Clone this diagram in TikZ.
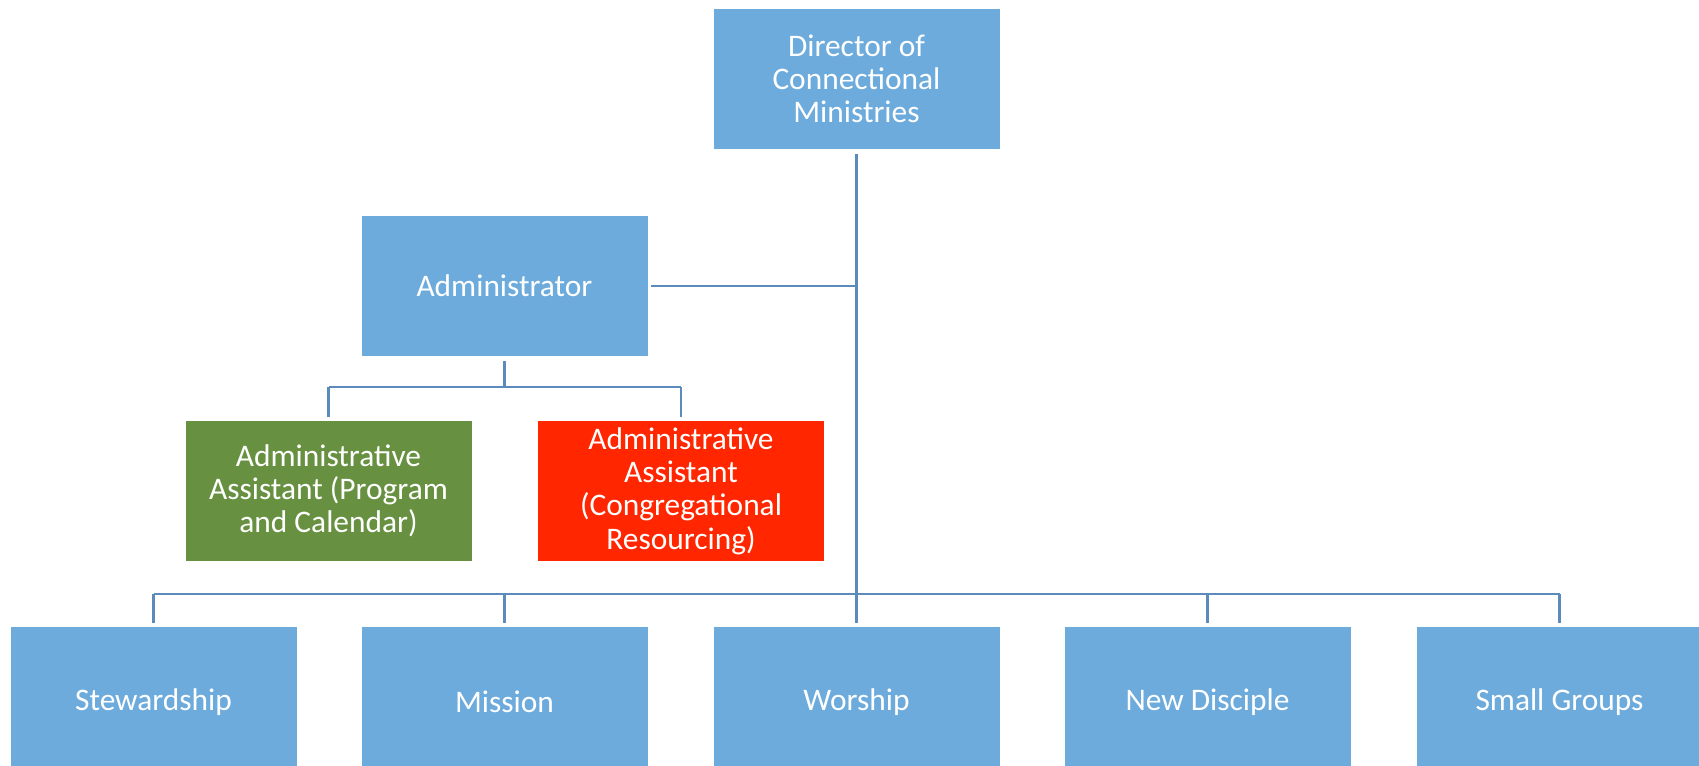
\documentclass[tikz,border=0pt]{standalone}
\usepackage{fontspec}
\setmainfont{Carlito}
\usepackage{xcolor}
\usepackage{tikz}
\usetikzlibrary{positioning}
\definecolor{boxblue}{HTML}{6CABDC}
\definecolor{linkblue}{HTML}{5A8BBA}
\definecolor{boxgreen}{HTML}{679141}
\definecolor{boxred}{HTML}{FF2600}
\tikzstyle{unit} = [rectangle,fill=boxblue,draw=white,line width=0.4pt,minimum width=143.5pt,minimum height=70.5pt,inner sep=0pt,align=center,text=white]
\tikzstyle{ministry} = [unit,minimum height=76pt]
\tikzstyle{link} = [linkblue,line width=1.3pt]

\begin{document}
\begin{tikzpicture}[x=0.5pt,y=-0.5pt]
	\useasboundingbox (0,0) rectangle (1699,766);
	\begin{scope}[font=\fontsize{15.7pt}{16.6pt}\selectfont]
		
		% Boxes:
		% Top of the chart and the administrator with two assistants
		\node [unit] (dir) at (856.5,79) {Director of\\Connectional\\Ministries};
		\node [unit] (admin) at (504.5,286) {Administrator};
		\node [unit,fill=boxgreen] (progasst) at (328.5,491) {Administrative\\Assistant (Program\\and Calendar)};
		\node [unit,fill=boxred] (congasst) at (681,491) {Administrative\\Assistant\\(Congregational\\Resourcing)};
		
		% Bottom row of ministries (cut off by the page edge):
		\node [ministry] (stew) at (153.5,702) {Stewardship};
		\node [ministry] (mission) at (504.5,702) {Mission};
		\node [ministry] (worship) at (856.5,702) {Worship};
		\node [ministry] (disciple) at (1207.5,702) {New Disciple};
		\node [ministry] (groups) at (1559.5,702) {Small Groups};
		
		% Connectors:
		\coordinate (bus) at (856.5,594);
		\coordinate (abus) at (504.5,387);
		
		\draw [link] ([yshift=-2pt]dir.south) -- (bus);
		\draw [link] ([xshift=1.5pt]admin.east) -- (admin.east -| dir);
		\draw [link] (bus -| stew) -- (bus -| groups);
		\foreach \n in {stew,mission,worship,disciple,groups}
		{
			\draw [link] (bus -| \n) -- ([yshift=1.5pt]\n.north);
		}
		
		\draw [link] ([yshift=-2pt]admin.south) -- (abus);
		\draw [link] (abus -| progasst) -- (abus -| congasst);
		\foreach \n in {progasst,congasst}
		{
			\draw [link] (abus -| \n) -- ([yshift=1.5pt]\n.north);
		}
		
	\end{scope}
\end{tikzpicture}
\end{document}
